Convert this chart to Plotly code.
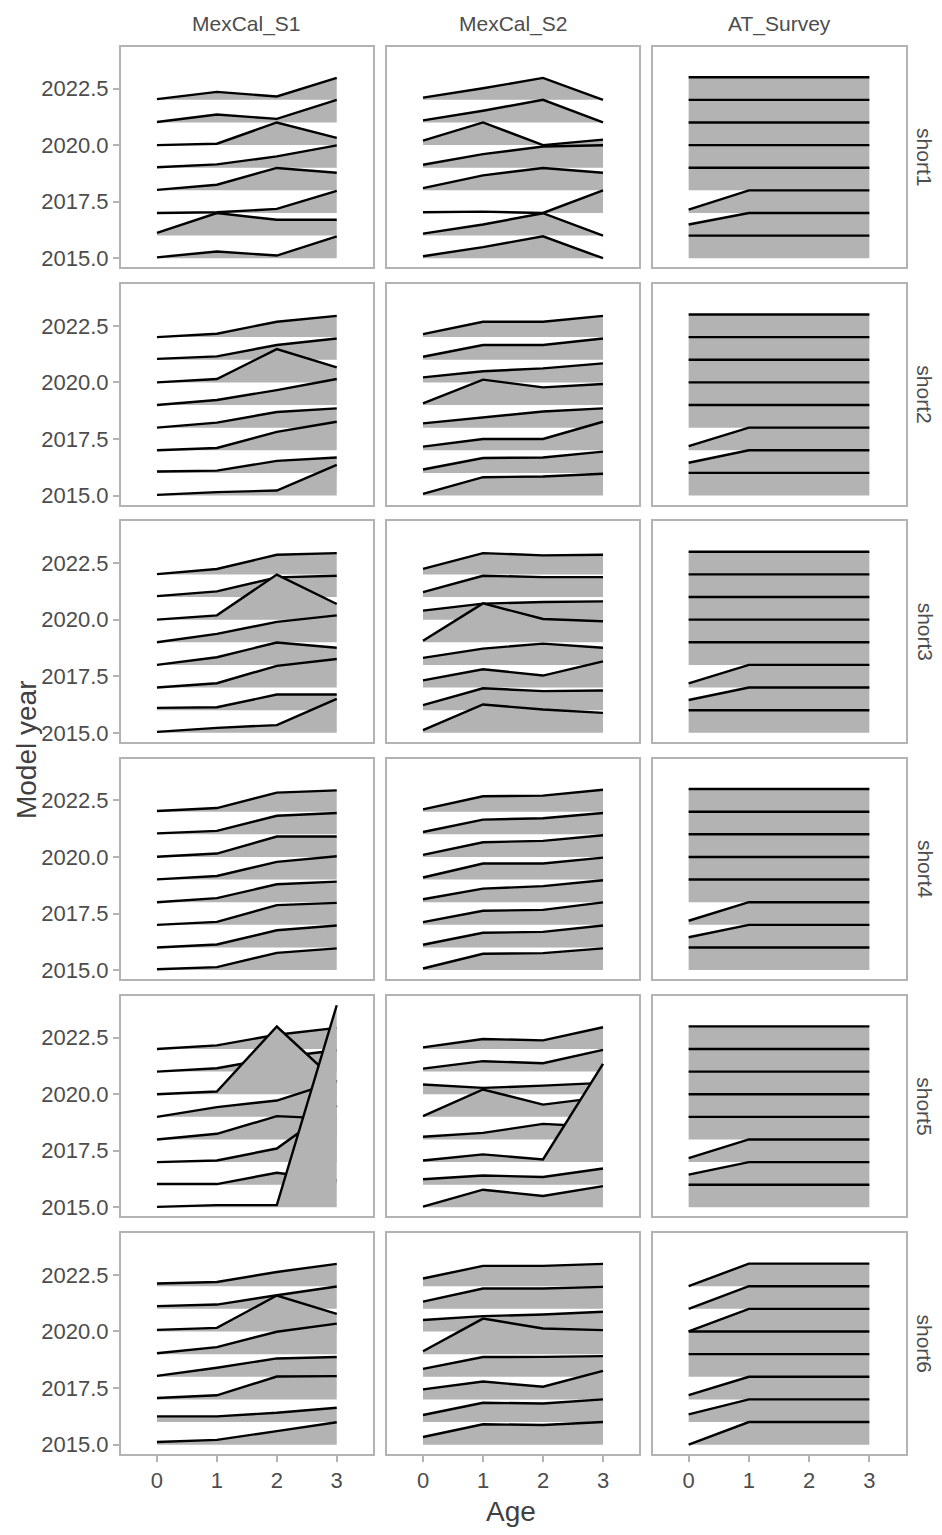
import plotly.graph_objects as go

# ---- data -------------------------------------------------------------
years = [2015, 2016, 2017, 2018, 2019, 2020, 2021, 2022]
ages = [0, 1, 2, 3]
fleets = ["MexCal_S1", "MexCal_S2", "AT_Survey"]
models = ["short1", "short2", "short3", "short4", "short5", "short6"]
y_ticks = [2015.0, 2017.5, 2020.0, 2022.5]

# selectivity-at-age by model year (one row per year, one value per age)
short1_s1 = [[0.04, 0.30, 0.12, 0.97], [0.12, 1.00, 0.70, 0.70], [0.00, 0.03, 0.18, 0.98],
             [0.02, 0.25, 0.99, 0.78], [0.02, 0.15, 0.50, 0.99], [0.00, 0.06, 1.00, 0.32],
             [0.02, 0.35, 0.16, 1.00], [0.03, 0.35, 0.15, 0.97]]
short1_s2 = [[0.09, 0.49, 0.97, 0.00], [0.09, 0.49, 0.99, 0.00], [0.03, 0.06, 0.00, 1.00],
             [0.10, 0.66, 0.99, 0.78], [0.13, 0.60, 0.94, 0.99], [0.20, 1.00, 0.00, 0.24],
             [0.09, 0.52, 1.00, 0.00], [0.10, 0.51, 0.97, 0.00]]
short1_at = [[1.00, 1.00, 1.00, 1.00], [0.49, 1.00, 1.00, 1.00], [0.15, 1.00, 1.00, 1.00],
             [1.00, 1.00, 1.00, 1.00], [1.00, 1.00, 1.00, 1.00], [1.00, 1.00, 1.00, 1.00],
             [1.00, 1.00, 1.00, 1.00], [1.00, 1.00, 1.00, 1.00]]

short2_s1 = [[0.03, 0.15, 0.22, 1.35], [0.06, 0.10, 0.53, 0.68], [0.00, 0.10, 0.81, 1.26],
             [0.00, 0.22, 0.69, 0.85], [0.00, 0.22, 0.66, 1.15], [0.00, 0.15, 1.47, 0.66],
             [0.04, 0.15, 0.65, 0.94], [0.00, 0.15, 0.68, 0.94]]
short2_s2 = [[0.07, 0.81, 0.84, 0.96], [0.15, 0.66, 0.68, 0.94], [0.16, 0.50, 0.50, 1.26],
             [0.19, 0.46, 0.71, 0.85], [0.07, 1.12, 0.78, 0.93], [0.22, 0.49, 0.62, 0.84],
             [0.13, 0.65, 0.65, 0.94], [0.13, 0.68, 0.68, 0.94]]
short2_at = [[1.00, 1.00, 1.00, 1.00], [0.45, 1.00, 1.00, 1.00], [0.18, 1.00, 1.00, 1.00],
             [1.00, 1.00, 1.00, 1.00], [1.00, 1.00, 1.00, 1.00], [1.00, 1.00, 1.00, 1.00],
             [1.00, 1.00, 1.00, 1.00], [1.00, 1.00, 1.00, 1.00]]

short3_s1 = [[0.04, 0.22, 0.34, 1.50], [0.10, 0.13, 0.69, 0.69], [0.00, 0.19, 0.96, 1.26],
             [0.00, 0.34, 0.99, 0.76], [0.00, 0.37, 0.90, 1.19], [0.00, 0.19, 1.99, 0.69],
             [0.04, 0.25, 0.87, 0.94], [0.01, 0.24, 0.87, 0.94]]
short3_s2 = [[0.12, 1.25, 1.03, 0.88], [0.22, 0.97, 0.84, 0.87], [0.32, 0.81, 0.53, 1.16],
             [0.31, 0.72, 0.94, 0.76], [0.07, 1.72, 1.03, 0.93], [0.40, 0.71, 0.78, 0.81],
             [0.22, 0.94, 0.88, 0.88], [0.24, 0.94, 0.84, 0.87]]
short3_at = [[1.00, 1.00, 1.00, 1.00], [0.45, 1.00, 1.00, 1.00], [0.18, 1.00, 1.00, 1.00],
             [1.00, 1.00, 1.00, 1.00], [1.00, 1.00, 1.00, 1.00], [1.00, 1.00, 1.00, 1.00],
             [1.00, 1.00, 1.00, 1.00], [1.00, 1.00, 1.00, 1.00]]

short4_s1 = [[0.04, 0.13, 0.76, 0.96], [0.00, 0.13, 0.76, 0.97], [0.00, 0.13, 0.87, 0.97],
             [0.00, 0.18, 0.79, 0.91], [0.01, 0.16, 0.78, 1.03], [0.01, 0.15, 0.90, 0.90],
             [0.04, 0.15, 0.82, 0.94], [0.03, 0.16, 0.84, 0.94]]
short4_s2 = [[0.07, 0.72, 0.75, 0.96], [0.12, 0.65, 0.69, 0.97], [0.12, 0.62, 0.66, 0.99],
             [0.13, 0.60, 0.71, 0.97], [0.09, 0.71, 0.71, 0.97], [0.09, 0.65, 0.71, 0.96],
             [0.10, 0.65, 0.71, 0.94], [0.10, 0.68, 0.71, 0.97]]
short4_at = [[1.00, 1.00, 1.00, 1.00], [0.45, 1.00, 1.00, 1.00], [0.18, 1.00, 1.00, 1.00],
             [1.00, 1.00, 1.00, 1.00], [1.00, 1.00, 1.00, 1.00], [1.00, 1.00, 1.00, 1.00],
             [1.00, 1.00, 1.00, 1.00], [1.00, 1.00, 1.00, 1.00]]

short5_s1 = [[0.02, 0.10, 0.10, 8.93], [0.03, 0.03, 0.53, 0.19], [0.00, 0.07, 0.60, 2.50],
             [0.00, 0.25, 1.03, 0.91], [0.00, 0.43, 0.72, 1.57], [0.00, 0.12, 2.99, 0.55],
             [0.00, 0.15, 0.62, 0.94], [0.00, 0.16, 0.63, 0.93]]
short5_s2 = [[0.03, 0.78, 0.50, 0.94], [0.24, 0.41, 0.34, 0.72], [0.07, 0.34, 0.12, 4.34],
             [0.12, 0.29, 0.69, 0.55], [0.03, 1.21, 0.54, 0.87], [0.43, 0.28, 0.38, 0.50],
             [0.13, 0.46, 0.37, 0.96], [0.07, 0.44, 0.38, 0.96]]
short5_at = [[1.00, 1.00, 1.00, 1.00], [0.45, 1.00, 1.00, 1.00], [0.18, 1.00, 1.00, 1.00],
             [1.00, 1.00, 1.00, 1.00], [1.00, 1.00, 1.00, 1.00], [1.00, 1.00, 1.00, 1.00],
             [1.00, 1.00, 1.00, 1.00], [1.00, 1.00, 1.00, 1.00]]

short6_s1 = [[0.12, 0.21, 0.60, 0.99], [0.25, 0.25, 0.41, 0.63], [0.06, 0.18, 1.01, 1.03],
             [0.04, 0.40, 0.81, 0.87], [0.04, 0.31, 0.99, 1.35], [0.07, 0.16, 1.59, 0.78],
             [0.12, 0.19, 0.60, 0.99], [0.12, 0.19, 0.63, 0.99]]
short6_s2 = [[0.34, 0.90, 0.87, 1.00], [0.31, 0.85, 0.82, 1.00], [0.44, 0.79, 0.56, 1.26],
             [0.35, 0.87, 0.88, 0.91], [0.13, 1.57, 1.13, 1.06], [0.51, 0.68, 0.75, 0.87],
             [0.32, 0.90, 0.90, 0.97], [0.34, 0.90, 0.90, 0.99]]
short6_at = [[0.00, 1.00, 1.00, 1.00], [0.34, 1.00, 1.00, 1.00], [0.19, 1.00, 1.00, 1.00],
             [1.00, 1.00, 1.00, 1.00], [1.00, 1.00, 1.00, 1.00], [0.00, 1.00, 1.00, 1.00],
             [0.00, 1.00, 1.00, 1.00], [0.00, 1.00, 1.00, 1.00]]

panels = {
    "short1": [short1_s1, short1_s2, short1_at],
    "short2": [short2_s1, short2_s2, short2_at],
    "short3": [short3_s1, short3_s2, short3_at],
    "short4": [short4_s1, short4_s2, short4_at],
    "short5": [short5_s1, short5_s2, short5_at],
    "short6": [short6_s1, short6_s2, short6_at],
}

# ---- layout geometry (pixels) ------------------------------------------
W, H = 942, 1535
col_px = [(121.0, 372.7), (387.0, 639.0), (652.5, 905.5)]
row_top0, row_h, row_step = 47.0, 221.0, 237.9
x_range = [-0.6, 3.6]
y_range = [2014.6, 2024.34]

FILL = "#B3B3B3"
BORDER = "#B3B3B3"
TXT = "#4D4D4D"
FONT = "Liberation Sans, Arial, sans-serif"

fig = go.Figure()
layout = {}

for r, model in enumerate(models):
    top = row_top0 + r * row_step
    bot = top + row_h
    for c, fleet in enumerate(fleets):
        idx = r * 3 + c + 1
        xa = "x" if idx == 1 else f"x{idx}"
        ya = "y" if idx == 1 else f"y{idx}"
        sel = panels[model][c]
        # upper ridges first so that lower ones overlay them
        for yi in range(len(years) - 1, -1, -1):
            yr = years[yi]
            tops = [yr + v for v in sel[yi]]
            fig.add_trace(go.Scatter(
                x=ages + [ages[-1], ages[0]], y=tops + [yr, yr],
                mode="lines", fill="toself", fillcolor=FILL,
                line=dict(width=0), hoverinfo="skip", showlegend=False,
                xaxis=xa, yaxis=ya))
            fig.add_trace(go.Scatter(
                x=ages, y=tops, mode="lines",
                line=dict(color="black", width=2.4),
                hoverinfo="skip", showlegend=False,
                xaxis=xa, yaxis=ya))

        x0, x1 = col_px[c]
        axis_common = dict(showgrid=False, zeroline=False, showline=True,
                           mirror=True, linecolor=BORDER, linewidth=2.2,
                           ticks="outside", ticklen=6, tickwidth=1.5,
                           tickcolor=BORDER,
                           tickfont=dict(family=FONT, size=22, color=TXT))
        xkey = "xaxis" if idx == 1 else f"xaxis{idx}"
        ykey = "yaxis" if idx == 1 else f"yaxis{idx}"
        layout[xkey] = dict(axis_common, domain=[x0 / W, x1 / W], range=x_range,
                            anchor=ya, tickvals=ages,
                            showticklabels=(r == len(models) - 1),
                            ticks="outside" if r == len(models) - 1 else "")
        layout[ykey] = dict(axis_common, domain=[1 - bot / H, 1 - top / H],
                            range=y_range, anchor=xa, tickvals=y_ticks,
                            tickformat=".1f", showticklabels=(c == 0),
                            ticks="outside" if c == 0 else "")

annotations = []
for c, fleet in enumerate(fleets):
    x0, x1 = col_px[c]
    annotations.append(dict(text=fleet, x=(x0 + x1) / 2 / W, y=1 - 24 / H,
                            xref="paper", yref="paper", showarrow=False,
                            xanchor="center", yanchor="middle",
                            font=dict(family=FONT, size=21, color=TXT)))
for r, model in enumerate(models):
    yc = row_top0 + r * row_step + row_h / 2
    annotations.append(dict(text=model, x=925 / W, y=1 - yc / H,
                            xref="paper", yref="paper", showarrow=False,
                            textangle=90, xanchor="center", yanchor="middle",
                            font=dict(family=FONT, size=21, color=TXT)))
annotations.append(dict(text="Model year", x=26 / W, y=1 - 752 / H,
                        xref="paper", yref="paper", showarrow=False,
                        textangle=-90, xanchor="center", yanchor="middle",
                        font=dict(family=FONT, size=28, color="#404040")))
annotations.append(dict(text="Age", x=511 / W, y=1 - 1515 / H,
                        xref="paper", yref="paper", showarrow=False,
                        xanchor="center", yanchor="middle",
                        font=dict(family=FONT, size=28, color="#404040")))

fig.update_layout(
    width=W, height=H,
    margin=dict(l=0, r=0, t=0, b=0),
    paper_bgcolor="white", plot_bgcolor="white",
    showlegend=False,
    annotations=annotations,
    **layout,
)

fig.write_html("out.html")
